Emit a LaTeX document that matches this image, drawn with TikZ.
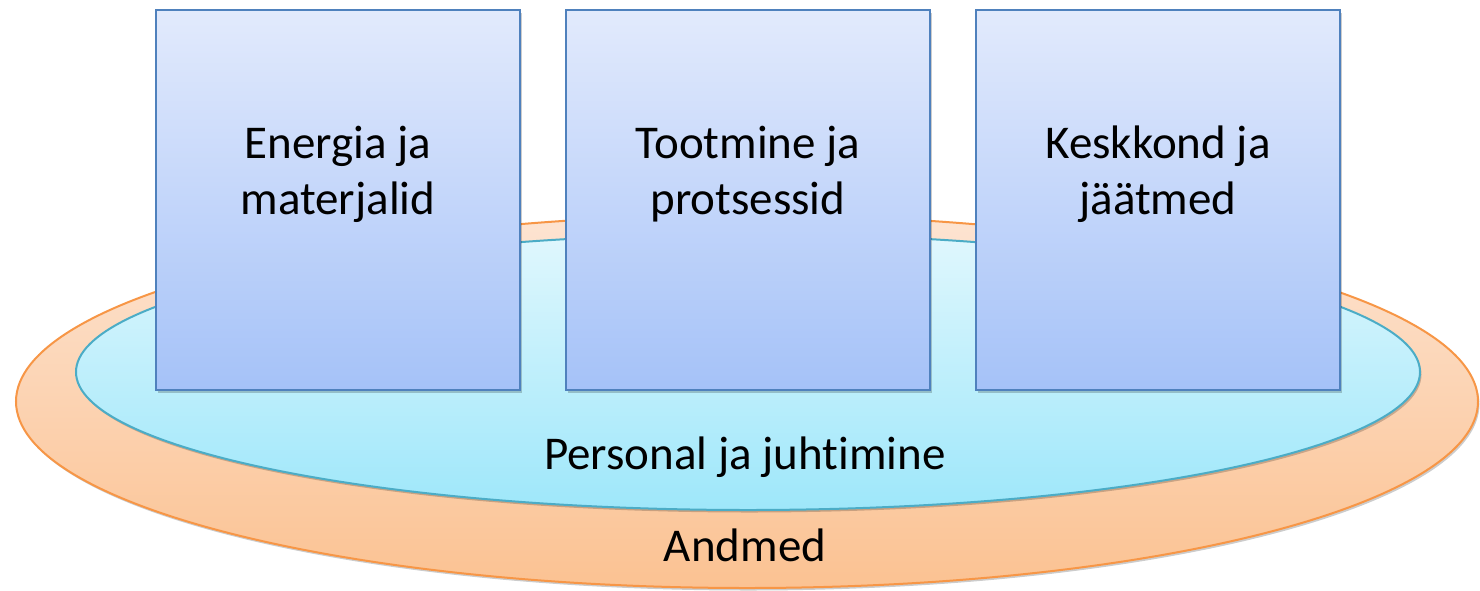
\documentclass[tikz,border=0pt]{standalone}
\usepackage{fontspec}
\setmainfont[Ligatures=NoCommon]{Carlito}
\usetikzlibrary{shapes.geometric,shadows}
\definecolor{boxtop}{RGB}{226,234,252}
\definecolor{boxbot}{RGB}{165,194,248}
\definecolor{boxline}{RGB}{79,129,189}
\definecolor{intop}{RGB}{224,247,253}
\definecolor{inbot}{RGB}{158,231,250}
\definecolor{inline}{RGB}{75,172,198}
\definecolor{outtop}{RGB}{253,228,210}
\definecolor{outbot}{RGB}{251,194,146}
\definecolor{outline}{RGB}{247,150,70}
\tikzset{
  shad/.style={drop shadow={shadow xshift=1.5pt, shadow yshift=-2.5pt, opacity=0.2, fill=black}},
  areabox/.style={draw=boxline, line width=2pt, top color=boxtop, bottom color=boxbot,
    minimum width=364pt, minimum height=380pt, inner sep=0pt, shad},
  ring/.style={ellipse, inner sep=0pt, line width=2pt, shad},
  txt/.style={font=\fontsize{47}{56}\selectfont, align=center, text=black}
}
\begin{document}
\begin{tikzpicture}[x=1pt,y=-1pt]
\useasboundingbox (0,0) rectangle (1480,590);
\node[ring, draw=outline, top color=outtop, bottom color=outbot,
  minimum width=1462pt, minimum height=373pt] (outer) at (747,401.5) {};
\node[ring, draw=inline, top color=intop, bottom color=inbot,
  minimum width=1344pt, minimum height=276pt] (inner) at (748,372) {};
\node[areabox] (b1) at (338,200) {};
\node[areabox] (b2) at (748,200) {};
\node[areabox] (b3) at (1158,200) {};
\node[txt] (t1) at (338,174) {Energia ja\\materjalid};
\node[txt] (t2) at (748,174) {Tootmine ja\\protsessid};
\node[txt] (t3) at (1158,174) {Keskkond ja\\jäätmed};
\node[txt] (tp) at (745,457) {Personal ja juhtimine};
\node[txt] (ta) at (745,545) {Andmed};
\end{tikzpicture}
\end{document}
